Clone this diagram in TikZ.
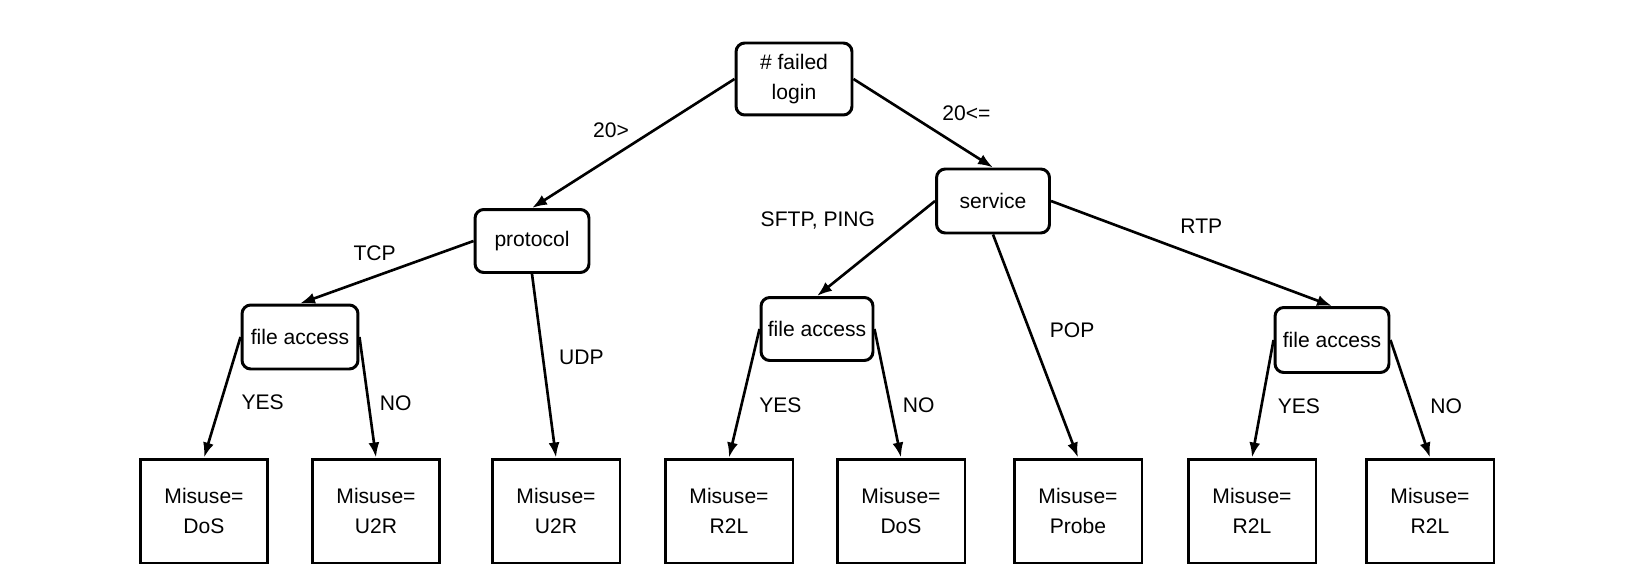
\documentclass[tikz,border=0pt]{standalone}
\usepackage{fontspec}
\setmainfont{Liberation Sans}
\usepackage{tikz}
\usetikzlibrary{arrows.meta,positioning}

\begin{document}
\begin{tikzpicture}[
  x=0.02cm, y=-0.02cm,
  font=\fontsize{12}{16.8}\selectfont,
  split/.style={draw, rounded corners=5pt, line width=1.7pt, align=center, inner sep=0pt},
  leaf/.style={draw, line width=1.7pt, align=center, inner sep=0pt, minimum width=2.56cm, minimum height=2.08cm},
  arrow/.style={-{Latex[length=3mm, width=2.2mm]}, line width=1.5pt},
  lbl/.style={inner sep=0pt}
]
\useasboundingbox (0,0) rectangle (1650,588);

% tests
\node[split, minimum width=2.32cm, minimum height=1.44cm] (login) at (794,79) {\# failed\\ login};
\node[split, minimum width=2.28cm, minimum height=1.26cm] (proto) at (532,241) {protocol};
\node[split, minimum width=2.26cm, minimum height=1.28cm] (serv) at (993,201) {service};
\node[split, minimum width=2.32cm, minimum height=1.28cm] (faL) at (300,337) {file access};
\node[split, minimum width=2.24cm, minimum height=1.26cm] (faM) at (817,329) {file access};
\node[split, minimum width=2.28cm, minimum height=1.30cm] (faR) at (1332,340) {file access};

% leaves
\node[leaf] (dosA) at (204,511) {Misuse=\\ DoS};
\node[leaf] (utrA) at (376,511) {Misuse=\\ U2R};
\node[leaf] (utrB) at (556,511) {Misuse=\\ U2R};
\node[leaf] (rtlA) at (729,511) {Misuse=\\ R2L};
\node[leaf] (dosB) at (901,511) {Misuse=\\ DoS};
\node[leaf] (probe) at (1078,511) {Misuse=\\ Probe};
\node[leaf] (rtlB) at (1252,511) {Misuse=\\ R2L};
\node[leaf] (rtlC) at (1430,511) {Misuse=\\ R2L};

\draw[arrow] (login.west) -- node[lbl, pos=0.61, above=0.38cm] (l1) {20>} (proto.north);
\draw[arrow] (login.east) -- node[lbl, pos=0.81, above=0.58cm] (l2) {20<=} (serv.north);
\draw[arrow] (proto.west) -- node[lbl, pos=0.57, above=0.3cm] (l3) {TCP} (faL.north);
\draw[arrow] (proto.south) -- node[lbl, pos=0.455, right=0.3cm] (l4) {UDP} (utrB.north);
\draw[arrow] (serv.west) -- node[lbl, pos=0.2, left=0.7cm] (l5) {SFTP, PING} (faM.north);
\draw[arrow] (serv.south) -- node[lbl, pos=0.43, right=0.38cm] (l6) {POP} (probe.north);
\draw[arrow] (serv.east) -- node[lbl, pos=0.535, above=0.45cm] (l7) {RTP} (faR.north);
\draw[arrow] (faL.west) -- node[lbl, pos=0.54, right=0.39cm] (l8) {YES} (dosA.north);
\draw[arrow] (faL.east) -- node[lbl, pos=0.55, right=0.2cm] (l9) {NO} (utrA.north);
\draw[arrow] (faM.west) -- node[lbl, pos=0.59, right=0.33cm] (l10) {YES} (rtlA.north);
\draw[arrow] (faM.east) -- node[lbl, pos=0.59, right=0.23cm] (l11) {NO} (dosB.north);
\draw[arrow] (faR.west) -- node[lbl, pos=0.56, right=0.3cm] (l12) {YES} (rtlB.north);
\draw[arrow] (faR.east) -- node[lbl, pos=0.56, right=0.33cm] (l13) {NO} (rtlC.north);

\end{tikzpicture}
\end{document}
